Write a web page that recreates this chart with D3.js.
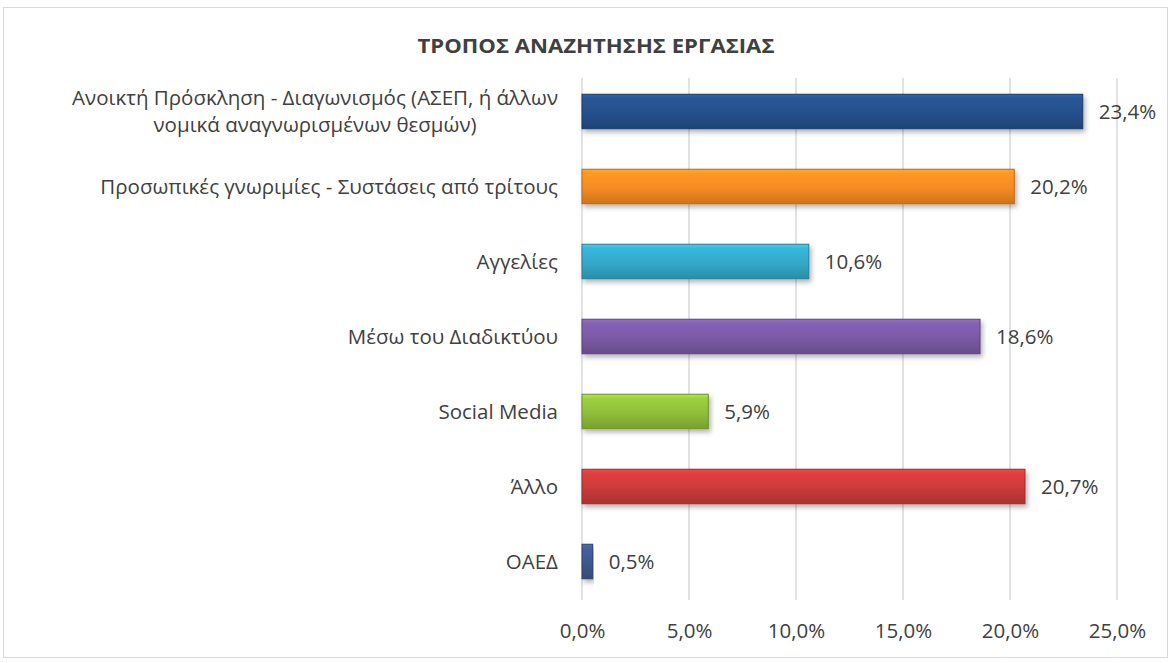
<!DOCTYPE html>
<html>
<head>
<meta charset="utf-8">
<script src="https://cdn.jsdelivr.net/npm/d3@7"></script>
<style>
  body { margin: 0; background: #fff; }
  text { font-family: "Open Sans", "Noto Sans", sans-serif; }
</style>
</head>
<body>
<div id="chart"></div>
<script>
  const WIDTH = 1175;
  const HEIGHT = 663;

  // categories (top to bottom)
  const categories = [
    ["Ανοικτή Πρόσκληση - Διαγωνισμός (ΑΣΕΠ, ή άλλων", "νομικά αναγνωρισμένων θεσμών)"],
    ["Προσωπικές γνωριμίες - Συστάσεις από τρίτους"],
    ["Αγγελίες"],
    ["Μέσω του Διαδικτύου"],
    ["Social Media"],
    ["Άλλο"],
    ["ΟΑΕΔ"]
  ];
  const values = [23.4, 20.2, 10.6, 18.6, 5.9, 20.7, 0.5];
  const barColors = ["#24508c", "#f68b22", "#33a8c9", "#7a5aa6", "#8fbf3a", "#cc3a3a", "#3f5790"];
  const tickValues = [0, 5, 10, 15, 20, 25];

  const fmt = v => v.toFixed(1).replace(".", ",") + "%";
  const FS = 20.5;

  const svg = d3.select("#chart").append("svg")
    .attr("width", WIDTH)
    .attr("height", HEIGHT);

  const defs = svg.append("defs");
  barColors.forEach((c, i) => {
    const g = defs.append("linearGradient")
      .attr("id", "grad" + i)
      .attr("x1", 0).attr("y1", 0).attr("x2", 0).attr("y2", 1);
    const base = d3.color(c);
    g.append("stop").attr("offset", "0%").attr("stop-color", base.brighter(0.6));
    g.append("stop").attr("offset", "12%").attr("stop-color", base.brighter(0.25));
    g.append("stop").attr("offset", "55%").attr("stop-color", base);
    g.append("stop").attr("offset", "100%").attr("stop-color", base.darker(0.5));
  });
  const shadow = defs.append("filter").attr("id", "shadow")
    .attr("x", "-5%").attr("y", "-20%").attr("width", "110%").attr("height", "160%");
  shadow.append("feDropShadow")
    .attr("dx", 2).attr("dy", 3).attr("stdDeviation", 2.5)
    .attr("flood-color", "#000").attr("flood-opacity", 0.3);

  // chart frame
  svg.append("rect")
    .attr("x", 3.5).attr("y", 7.5)
    .attr("width", 1164).attr("height", 650)
    .attr("fill", "#fff")
    .attr("stroke", "#d9d9d9");

  svg.append("text")
    .attr("x", 596).attr("y", 53)
    .attr("text-anchor", "middle")
    .attr("font-size", 19)
    .attr("font-weight", "bold")
    .attr("fill", "#404040")
    .attr("textLength", 357)
    .attr("lengthAdjust", "spacingAndGlyphs")
    .text("ΤΡΟΠΟΣ ΑΝΑΖΗΤΗΣΗΣ ΕΡΓΑΣΙΑΣ");

  const x = d3.scaleLinear().domain([0, 25]).range([582, 1117]);
  const y = d3.scaleBand().domain(d3.range(categories.length)).range([74, 599]).paddingInner(0.54).paddingOuter(0.27);

  // grid lines
  svg.append("g")
    .selectAll("line")
    .data(tickValues)
    .join("line")
    .attr("x1", d => x(d)).attr("x2", d => x(d))
    .attr("y1", 78).attr("y2", 600)
    .attr("stroke", "#d9d9d9")
    .attr("stroke-width", 1.5);

  // x axis
  const xAxis = svg.append("g")
    .attr("transform", "translate(0,600)")
    .call(d3.axisBottom(x).tickValues(tickValues).tickFormat(fmt).tickSize(0).tickPadding(23));
  xAxis.select(".domain").remove();
  xAxis.selectAll("text")
    .attr("font-size", FS)
    .attr("fill", "#404040")
    .style("font-family", "\"Open Sans\", sans-serif");

  // bars
  svg.append("g")
    .selectAll("rect")
    .data(values)
    .join("rect")
    .attr("x", x(0))
    .attr("y", (d, i) => y(i))
    .attr("width", d => x(d) - x(0))
    .attr("height", y.bandwidth())
    .attr("fill", (d, i) => `url(#grad${i})`)
    .attr("stroke", (d, i) => d3.color(barColors[i]).darker(0.8))
    .attr("stroke-width", 1)
    .attr("filter", "url(#shadow)");

  // value labels
  svg.append("g")
    .selectAll("text")
    .data(values)
    .join("text")
    .attr("x", d => x(d) + 16)
    .attr("y", (d, i) => y(i) + y.bandwidth() / 2 + 7)
    .attr("font-size", FS)
    .attr("fill", "#404040")
    .text(fmt);

  // category labels
  const labels = svg.append("g")
    .selectAll("text")
    .data(categories)
    .join("text")
    .attr("text-anchor", "middle")
    .attr("font-size", FS)
    .attr("fill", "#404040");
  labels.each(function (lines, i) {
    const cy = y(i) + y.bandwidth() / 2;
    const t = d3.select(this);
    lines.forEach((line, j) => {
      t.append("tspan")
        .attr("x", 0)
        .attr("y", cy + 7 + (j - (lines.length - 1) / 2) * 27)
        .text(line);
    });
    // right-align the block to the axis, centre lines within it
    const bw = this.getBBox().width;
    t.selectAll("tspan").attr("x", 558 - bw / 2);
  });
</script>
</body>
</html>
